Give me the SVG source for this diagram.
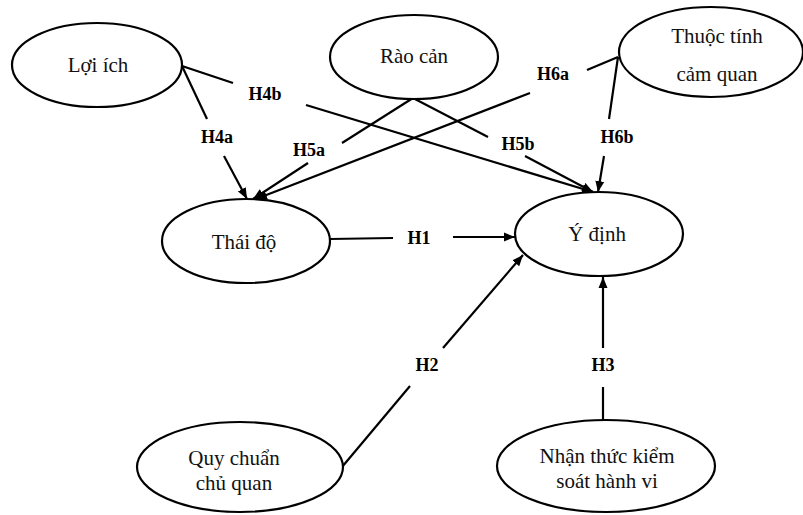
<svg xmlns="http://www.w3.org/2000/svg" width="803" height="515" viewBox="0 0 803 515">
<style>
.node ellipse{fill:#fff;stroke:#000;stroke-width:2.2}
.node text{font-family:"Liberation Serif","Times New Roman",serif;font-size:21px;fill:#111;text-anchor:middle}
.edges line{stroke:#000;stroke-width:2.2}
.lbl{font-family:"Liberation Serif","Times New Roman",serif;font-size:18px;font-weight:bold;fill:#000;text-anchor:middle}
</style>
<defs>
<marker id="arr" markerUnits="userSpaceOnUse" markerWidth="12" markerHeight="10" refX="11" refY="5" orient="auto">
<path d="M0,0.5 L11,5 L0,9.5 Z" fill="#000"/>
</marker>
</defs>
<rect width="803" height="515" fill="#fff"/>
<g class="edges">
<line x1="182" y1="66" x2="207" y2="119"/>
<line x1="224" y1="156" x2="247" y2="199" marker-end="url(#arr)"/>
<line x1="182" y1="66" x2="233" y2="83"/>
<line x1="306" y1="105" x2="593" y2="192" marker-end="url(#arr)"/>
<line x1="413" y1="98" x2="342" y2="143"/>
<line x1="308" y1="163" x2="253" y2="199" marker-end="url(#arr)"/>
<line x1="413" y1="98" x2="488" y2="137"/>
<line x1="525" y1="156" x2="593" y2="192" marker-end="url(#arr)"/>
<line x1="618" y1="57" x2="587" y2="70"/>
<line x1="530" y1="93" x2="256" y2="199" marker-end="url(#arr)"/>
<line x1="618" y1="57" x2="609" y2="119"/>
<line x1="604" y1="156" x2="598" y2="192" marker-end="url(#arr)"/>
<line x1="330" y1="239" x2="393" y2="238"/>
<line x1="453" y1="237" x2="515" y2="237" marker-end="url(#arr)"/>
<line x1="342" y1="467" x2="410" y2="386"/>
<line x1="443" y1="348" x2="523" y2="255" marker-end="url(#arr)"/>
<line x1="603" y1="420" x2="603" y2="387"/>
<line x1="603" y1="348" x2="603" y2="277" marker-end="url(#arr)"/>
<text class="lbl" x="217" y="143">H4a</text>
<text class="lbl" x="265" y="100">H4b</text>
<text class="lbl" x="309" y="156">H5a</text>
<text class="lbl" x="518" y="150">H5b</text>
<text class="lbl" x="553" y="80">H6a</text>
<text class="lbl" x="617" y="143">H6b</text>
<text class="lbl" x="419" y="244">H1</text>
<text class="lbl" x="427" y="371">H2</text>
<text class="lbl" x="603" y="371">H3</text>
</g>
<g class="node" id="loi-ich">
<ellipse cx="97" cy="65" rx="85" ry="42"/>
<text x="98" y="72">Lợi ích</text>
</g>
<g class="node" id="rao-can">
<ellipse cx="414" cy="57" rx="84" ry="42"/>
<text x="414" y="63">Rào cản</text>
</g>
<g class="node" id="thuoc-tinh">
<ellipse cx="711" cy="52" rx="92" ry="45"/>
<text x="717" y="43">Thuộc tính</text>
<text x="717" y="81">cảm quan</text>
</g>
<g class="node" id="thai-do">
<ellipse cx="246" cy="241" rx="84" ry="42"/>
<text x="244" y="249">Thái độ</text>
</g>
<g class="node" id="y-dinh">
<ellipse cx="599" cy="234" rx="84" ry="42"/>
<text x="597" y="241">Ý định</text>
</g>
<g class="node" id="quy-chuan">
<ellipse cx="240" cy="467" rx="103" ry="45"/>
<text x="234" y="465">Quy chuẩn</text>
<text x="234" y="490">chủ quan</text>
</g>
<g class="node" id="nhan-thuc">
<ellipse cx="606" cy="466" rx="109" ry="46"/>
<text x="607" y="463">Nhận thức kiểm</text>
<text x="607" y="488">soát hành vi</text>
</g>
</svg>
